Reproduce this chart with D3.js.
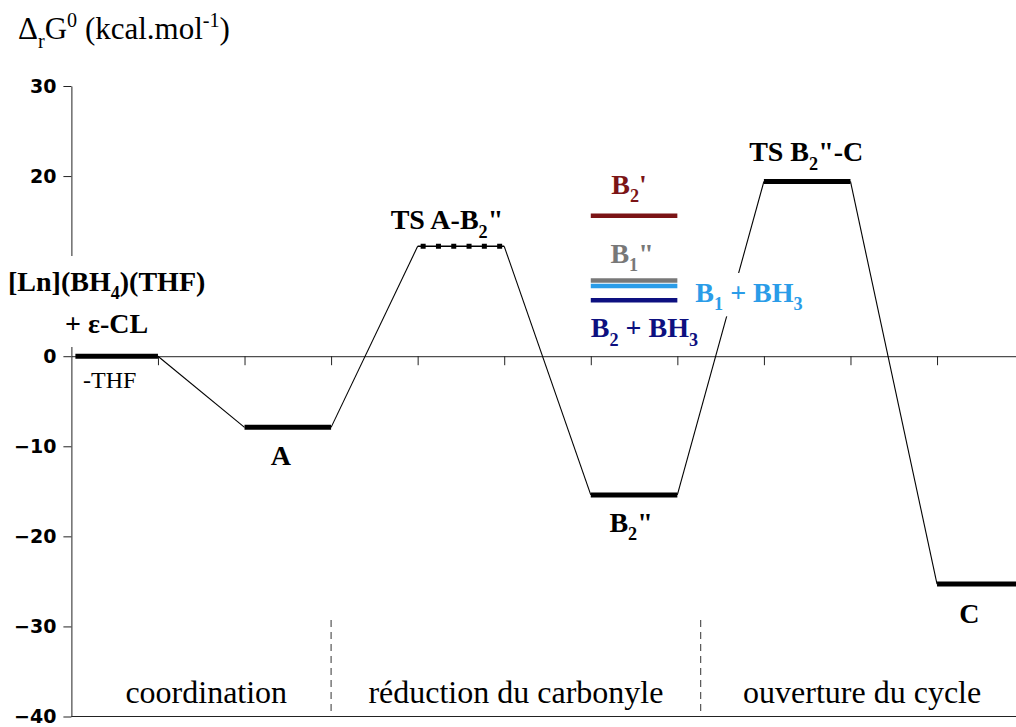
<!DOCTYPE html>
<html>
<head>
<meta charset="utf-8">
<script src="https://cdn.jsdelivr.net/npm/d3@7"></script>
<style>
  html, body { margin: 0; padding: 0; background: #fff; }
  svg { display: block; }
</style>
</head>
<body>
<svg id="chart" width="1016" height="727"></svg>
<script>
// Free-energy profile: ring opening of ε-CL by [Ln](BH4)(THF)

// Main pathway: stationary points and their ΔrG° (kcal/mol); slot = column index
const stageNames = ["[Ln](BH_{4})(THF) + ε-CL", "A", "TS A-B_{2}\"", "B_{2}\"", "TS B_{2}\"-C", "C"];
const stageEnergies = [0, -7.9, 12.2, -15.4, 19.4, -25.3];
const stageSlots = [0, 2, 4, 6, 8, 10];

// Alternative species drawn in the same column as B2"
const altNames = ["B_{2}'", "B_{1}\"", "B_{1} + BH_{3}", "B_{2} + BH_{3}"];
const altEnergies = [15.6, 8.4, 7.8, 6.2];
const altSlot = 6;

// Axis ticks (10 sits under the reactant label) and reaction phases
const yTicks = [-40, -30, -20, -10, 0, 20, 30];
const phaseNames = ["coordination", "réduction du carbonyle", "ouverture du cycle"];
const phaseBounds = [0, 3, 7.27, 11];

// Styles
const altColors = ["#7b1416", "#787878", "#2a9ce8", "#0d1080"];
const serif = "'Liberation Serif', Tinos, 'Times New Roman', Times, 'DejaVu Serif', serif";
const sans = "'DejaVu Sans', Verdana, sans-serif";
const labelSize = 28;

const svg = d3.select("#chart");

const x = d3.scaleLinear().domain([0, 11]).range([71.4, 1023.6]);
const y = d3.scaleLinear().domain([-40, 30]).range([716.5, 86]);

// Writes a string with _{sub} and ^{sup} parts into a <text> element
function rich(textSel, str, size) {
  const parts = str.split(/(_\{[^}]*\}|\^\{[^}]*\})/).filter(s => s.length);
  let shift = 0;
  parts.forEach(p => {
    let target = 0, fs = size, txt = p;
    if (p.startsWith("_{")) { target = 0.3 * size; fs = 0.65 * size; txt = p.slice(2, -1); }
    else if (p.startsWith("^{")) { target = -0.4 * size; fs = 0.65 * size; txt = p.slice(2, -1); }
    textSel.append("tspan").attr("dy", target - shift).attr("font-size", fs).text(txt);
    shift = target;
  });
  return textSel;
}

function label(g, str, px, py, opts = {}) {
  const t = g.append("text")
    .attr("x", px).attr("y", py)
    .attr("text-anchor", opts.anchor || "middle")
    .style("font-family", opts.family || serif)
    .attr("font-weight", opts.weight || "bold")
    .attr("font-size", opts.size || labelSize)
    .attr("fill", opts.color || "#000");
  rich(t, str, opts.size || labelSize);
  if (opts.knockout) {
    const b = t.node().getBBox();
    const pad = opts.knockout;
    g.insert("rect", () => t.node())
      .attr("x", b.x - pad[3]).attr("y", b.y - pad[0])
      .attr("width", b.width + pad[1] + pad[3])
      .attr("height", b.height + pad[0] + pad[2])
      .attr("fill", "#fff");
  }
  return t;
}

// ---- axes ----
const yAxis = svg.append("g")
  .attr("transform", `translate(${x(0)},0)`)
  .call(d3.axisLeft(y).tickValues(yTicks).tickSize(8).tickSizeOuter(0).tickPadding(7));
yAxis.selectAll("text")
  .style("font-family", sans).attr("font-size", 19).attr("font-weight", "bold").attr("fill", "#000");
yAxis.selectAll("line, path").attr("stroke", "#222");

const zeroAxis = svg.append("g")
  .attr("transform", `translate(0,${y(0)})`)
  .call(d3.axisBottom(x).tickValues(d3.range(1, 11)).tickSize(9).tickSizeOuter(0).tickFormat(""));
zeroAxis.selectAll("line, path").attr("stroke", "#222");

svg.append("line")
  .attr("x1", x(0)).attr("x2", x(11))
  .attr("y1", y(-40)).attr("y2", y(-40))
  .attr("stroke", "#222");

// ---- phases ----
svg.selectAll("line.sep")
  .data(phaseBounds.slice(1, -1))
  .join("line").attr("class", "sep")
  .attr("x1", d => x(d)).attr("x2", d => x(d))
  .attr("y1", 620).attr("y2", y(-40))
  .attr("stroke", "#333").attr("stroke-dasharray", "7,5");

svg.selectAll("text.phase")
  .data(phaseNames)
  .join("text").attr("class", "phase")
  .attr("x", (d, i) => x((phaseBounds[i] + phaseBounds[i + 1]) / 2) + (i === 0 ? 5 : 0))
  .attr("y", 703)
  .attr("text-anchor", "middle")
  .style("font-family", serif).attr("font-size", 32)
  .text(d => d);

// ---- connectors between consecutive levels ----
const links = d3.range(stageEnergies.length - 1).map(i => ({
  x1: x(stageSlots[i] + 1), y1: y(stageEnergies[i]),
  x2: x(stageSlots[i + 1]), y2: y(stageEnergies[i + 1])
}));
svg.selectAll("line.link")
  .data(links)
  .join("line").attr("class", "link")
  .attr("x1", d => d.x1).attr("y1", d => d.y1)
  .attr("x2", d => d.x2).attr("y2", d => d.y2)
  .attr("stroke", "#000").attr("stroke-width", 1.1);

// ---- main levels ----
stageEnergies.forEach((e, i) => {
  const x0 = x(stageSlots[i]) + (i === 0 ? 4 : 0);
  const x1 = x(stageSlots[i] + 1);
  if (i === 2) {
    // dotted transition-state level
    svg.append("line")
      .attr("x1", x0).attr("x2", x1).attr("y1", y(e)).attr("y2", y(e))
      .attr("stroke", "#000").attr("stroke-width", 1.5);
    svg.append("line")
      .attr("x1", x0).attr("x2", x1).attr("y1", y(e)).attr("y2", y(e))
      .attr("stroke", "#000").attr("stroke-width", 5)
      .attr("stroke-dasharray", "5,10.3").attr("stroke-dashoffset", -3);
  } else {
    svg.append("line")
      .attr("x1", x0).attr("x2", x1).attr("y1", y(e)).attr("y2", y(e))
      .attr("stroke", "#000").attr("stroke-width", 5);
  }
});

// ---- alternative levels ----
svg.selectAll("line.alt")
  .data(altEnergies)
  .join("line").attr("class", "alt")
  .attr("x1", x(altSlot)).attr("x2", x(altSlot + 1))
  .attr("y1", d => y(d)).attr("y2", d => y(d))
  .attr("stroke", (d, i) => altColors[i]).attr("stroke-width", 4.5);

// ---- labels ----
const lab = svg.append("g");

// reactants (white backing interrupts the y axis behind them)
const r0 = stageNames[0].split(" + ");
label(lab, r0[0], 8, 291, { anchor: "start", knockout: [10, 4, 2, 4] });
label(lab, "+ " + r0[1], 65, 333, { anchor: "start", knockout: [4, 4, 8, 4] });
label(lab, "-THF", 83, 388, { anchor: "start", weight: "normal", size: 24 });

// main species
const mainLayout = [null,
  { dx: -7, dy: 38 },
  { dx: -14, dy: -17 },
  { dx: -3, dy: 37 },
  { dx: -1, dy: -20 },
  { dx: -11, dy: 39 }];
stageNames.forEach((n, i) => {
  if (!mainLayout[i]) return;
  const cx = (x(stageSlots[i]) + x(stageSlots[i] + 1)) / 2;
  label(lab, n, cx + mainLayout[i].dx, y(stageEnergies[i]) + mainLayout[i].dy);
});

// alternative species
const cxAlt = (x(altSlot) + x(altSlot + 1)) / 2;
label(lab, altNames[0], cxAlt - 5, y(altEnergies[0]) - 22, { color: altColors[0] });
label(lab, altNames[1], cxAlt - 2, y(altEnergies[1]) - 18, { color: altColors[1] });
label(lab, altNames[2], x(altSlot + 1) + 18, y(altEnergies[2]) + 16,
  { anchor: "start", color: altColors[2], knockout: [4, 4, 2, 4] });
label(lab, altNames[3], x(altSlot), y(altEnergies[3]) + 37, { anchor: "start", color: altColors[3] });

// y-axis title
label(svg, "Δ_{r}G^{0} (kcal.mol^{-1})", 18, 39, { anchor: "start", weight: "normal", size: 31 });
</script>
</body>
</html>
